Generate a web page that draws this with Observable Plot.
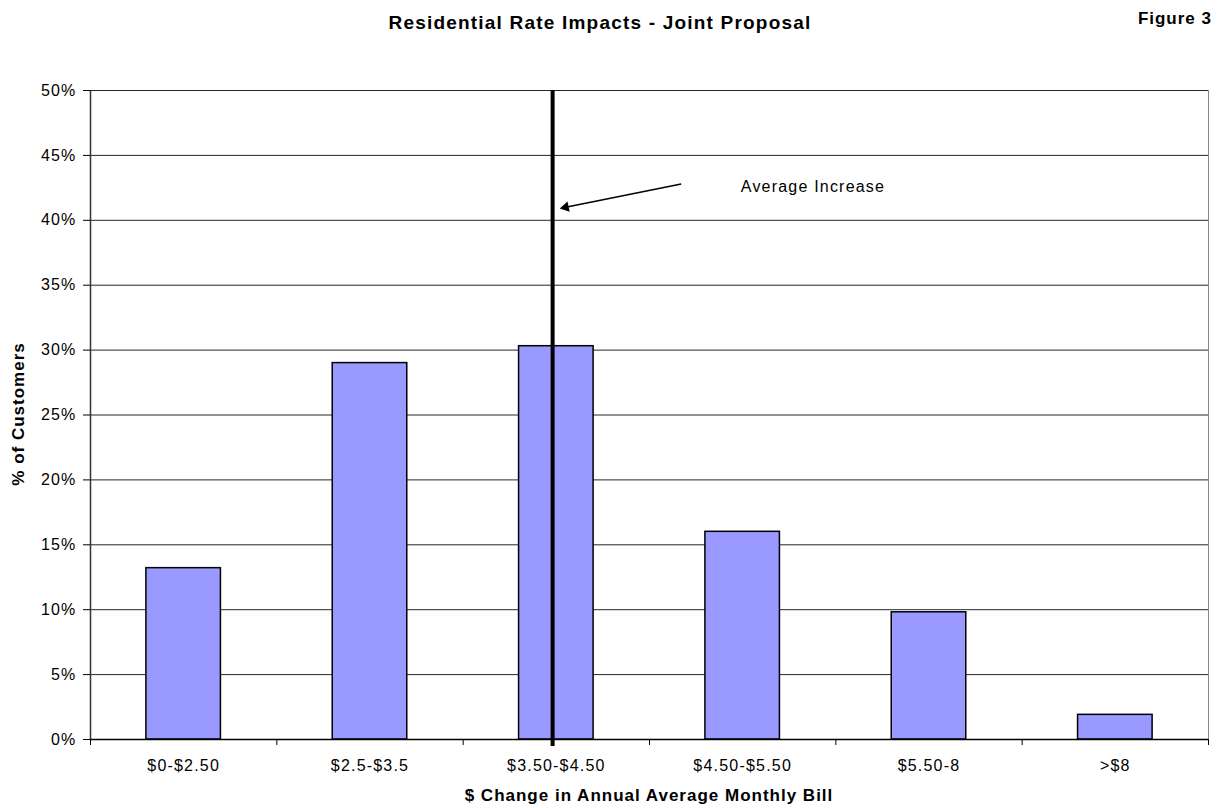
<!DOCTYPE html>
<html>
<head>
<meta charset="utf-8">
<script src="https://cdn.jsdelivr.net/npm/d3@7"></script>
<script src="https://cdn.jsdelivr.net/npm/@observablehq/plot@0.6"></script>
<style>
  html, body { margin: 0; padding: 0; background: #fff; }
  #wrap { position: relative; width: 1223px; height: 808px; font-family: "Liberation Sans", Arial, sans-serif; }
  #chart { position: absolute; left: 0; top: 0; }
  #chart svg text { letter-spacing: 1.2px; }
  .lbl { position: absolute; font-weight: bold; color: #000; white-space: nowrap; line-height: 1.15; z-index: 2; }
  #title { left: 0; width: 1200px; top: 12px; text-align: center; font-size: 19px; letter-spacing: 1.2px; }
  #fig { right: 11px; top: 9px; font-size: 17px; letter-spacing: 1px; }
  #xlab { left: 90px; width: 1118px; top: 786px; text-align: center; font-size: 17px; letter-spacing: 1px; }
  #ylab { left: 19px; top: 414px; font-size: 17px; letter-spacing: 1px; transform: translate(-50%, -50%) rotate(-90deg); }
</style>
</head>
<body>
<div id="wrap">
  <div id="chart"></div>
  <div id="title" class="lbl">Residential Rate Impacts - Joint Proposal</div>
  <div id="fig" class="lbl">Figure 3</div>
  <div id="ylab" class="lbl">% of Customers</div>
  <div id="xlab" class="lbl">$ Change in Annual Average Monthly Bill</div>
</div>
<script>
// Bill-change bins and share of residential customers in each
const categories = ["$0-$2.50", "$2.5-$3.5", "$3.50-$4.50", "$4.50-$5.50", "$5.50-8", ">$8"];
const shares = [0.132, 0.290, 0.303, 0.160, 0.098, 0.019];

// Average increase, on the bin-index axis (just left of the $3.50-$4.50 centre)
const averageIncrease = [1.98];

// Annotation arrow and its label
const arrowFrom = { x: 2.67, y: 0.428 };
const arrowTo = { x: 2.05, y: 0.410 };
const noteText = { x: 2.99, y: 0.426, text: "Average Increase" };

const yTicks = d3.range(0, 0.5001, 0.05);
const gridTicks = yTicks.slice(1);
const bins = categories.map((c, i) => ({ i, label: c, value: shares[i] }));
const binEdges = d3.range(-0.5, categories.length, 1);

const font = "Liberation Sans, Arial, sans-serif";

const chart = Plot.plot({
  width: 1223,
  height: 808,
  marginLeft: 90,
  marginRight: 15,
  marginTop: 90,
  marginBottom: 69,
  style: { fontFamily: font, fontSize: "16px", color: "#000", background: "#fff", overflow: "visible" },
  x: { type: "linear", domain: [-0.5, categories.length - 0.5] },
  y: { domain: [0, 0.5] },
  marks: [
    // horizontal gridlines
    Plot.ruleY(gridTicks, { stroke: "#000", strokeWidth: 1, strokeOpacity: 0.85 }),
    // right border of the plot area
    Plot.ruleX([categories.length - 0.5], { stroke: "#888", strokeWidth: 1 }),
    // bars
    Plot.rectY(bins, {
      x1: d => d.i - 0.2,
      x2: d => d.i + 0.2,
      y: "value",
      fill: "#9999FF",
      stroke: "#000",
      strokeWidth: 1.5
    }),
    // axis lines
    Plot.ruleX([-0.5], { stroke: "#333", strokeWidth: 1.5 }),
    Plot.ruleY([0], { stroke: "#000", strokeWidth: 1.5 }),
    // y axis
    Plot.axisY({
      ticks: yTicks,
      tickFormat: d => Math.round(d * 100) + "%",
      tickSize: 7,
      tickPadding: 7,
      label: null,
      fontSize: 16
    }),
    // x tick marks at bin edges
    Plot.axisX({ ticks: binEdges, tickFormat: () => "", tickSize: 6, label: null }),
    // x category labels at bin centres
    Plot.axisX({
      ticks: d3.range(categories.length),
      tickFormat: i => categories[i],
      tickSize: 0,
      tickPadding: 20,
      label: null,
      fontSize: 16
    }),
    // average increase line, running a little below the axis
    Plot.ruleX(averageIncrease, { y1: 0.5, y2: 0, stroke: "#000", strokeWidth: 4, insetBottom: -7 }),
    // annotation arrow
    Plot.link([arrowFrom], { x1: "x", y1: "y", x2: () => arrowTo.x, y2: () => arrowTo.y, stroke: "#000", strokeWidth: 1.5 }),
    Plot.dot([arrowTo], { x: "x", y: "y", symbol: "triangle2", r: 5, fill: "#000", rotate: -102 }),
    Plot.text([noteText], { x: "x", y: "y", text: "text", textAnchor: "start", fontSize: 16, fill: "#000" })
  ]
});

document.getElementById("chart").appendChild(chart);
</script>
</body>
</html>
